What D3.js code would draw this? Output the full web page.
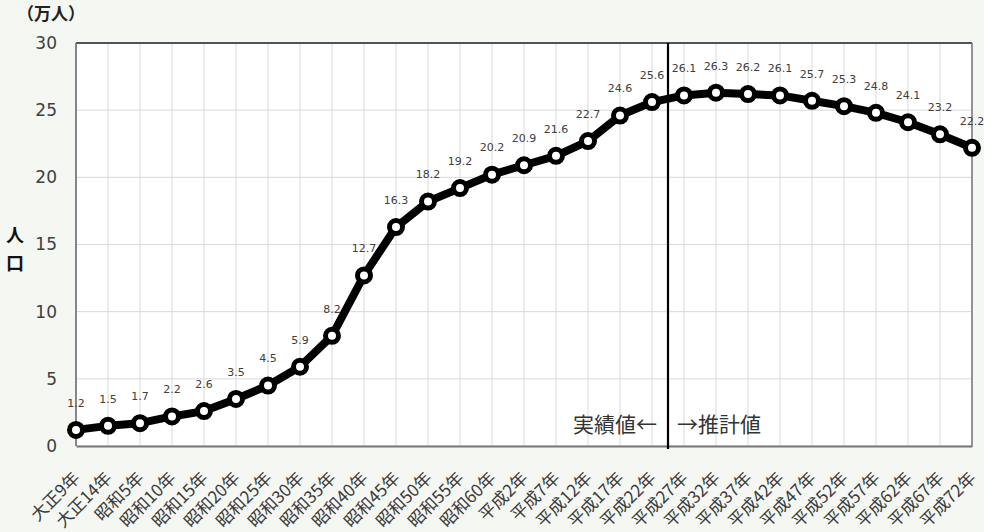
<!DOCTYPE html>
<html><head><meta charset="utf-8">
<script src="https://cdn.jsdelivr.net/npm/d3@7"></script>
<style>
html,body{margin:0;padding:0;background:#f5f7f2;}
svg{display:block;}
</style></head>
<body>
<svg id="chart" width="984" height="532"></svg>
<script>
const categories = ["大正9年","大正14年","昭和5年","昭和10年","昭和15年","昭和20年","昭和25年","昭和30年","昭和35年","昭和40年","昭和45年","昭和50年","昭和55年","昭和60年","平成2年","平成7年","平成12年","平成17年","平成22年","平成27年","平成32年","平成37年","平成42年","平成47年","平成52年","平成57年","平成62年","平成67年","平成72年"];
const population = [1.2,1.5,1.7,2.2,2.6,3.5,4.5,5.9,8.2,12.7,16.3,18.2,19.2,20.2,20.9,21.6,22.7,24.6,25.6,26.1,26.3,26.2,26.1,25.7,25.3,24.8,24.1,23.2,22.2];
const yTicks = [0,5,10,15,20,25,30];
const unitLabel = "（万人）";
const yTitle = ["人","口"];
const dividerBetween = ["平成22年","平成27年"];
const leftNote = "実績値←";
const rightNote = "→推計値";

const CJK = "'Noto Sans CJK JP','Noto Sans',sans-serif";
const svg = d3.select("#chart");
const L = 76, R = 972, T = 43, B = 446;
const x = d3.scalePoint().domain(categories).range([L, R]);
const y = d3.scaleLinear().domain([0,30]).range([B, T]);

svg.append("rect").attr("x",L).attr("y",T).attr("width",R-L).attr("height",B-T).attr("fill","#ffffff");

svg.append("g").selectAll("line").data(categories).join("line")
  .attr("x1",d=>x(d)).attr("x2",d=>x(d)).attr("y1",T).attr("y2",B)
  .attr("stroke","#d9d9d9").attr("stroke-width",1);
svg.append("g").selectAll("line").data(yTicks).join("line")
  .attr("x1",L).attr("x2",R).attr("y1",d=>y(d)).attr("y2",d=>y(d))
  .attr("stroke","#d9d9d9").attr("stroke-width",1);

svg.append("line").attr("x1",L).attr("x2",R).attr("y1",T).attr("y2",T).attr("stroke","#222").attr("stroke-width",1.5);
svg.append("line").attr("x1",R).attr("x2",R).attr("y1",T).attr("y2",B).attr("stroke","#777").attr("stroke-width",1.5);
svg.append("line").attr("x1",L).attr("x2",L).attr("y1",T).attr("y2",B).attr("stroke","#666").attr("stroke-width",1.5);

const yAxis = d3.axisLeft(y).tickValues(yTicks).tickSize(0).tickPadding(19);
const gy = svg.append("g").attr("transform",`translate(${L},0)`).call(yAxis);
gy.select(".domain").remove();
gy.selectAll("text").attr("fill","#404040").style("font-family","'DejaVu Sans',sans-serif").style("font-size","17px");

const xAxis = d3.axisBottom(x).tickSize(0).tickPadding(0);
const gx = svg.append("g").attr("transform",`translate(0,${B})`).call(xAxis);
gx.select(".domain").attr("stroke","#777").attr("stroke-width",2);
gx.selectAll("text").style("font-size","17px").style("font-family",CJK).attr("fill","#3a3a3a")
  .attr("text-anchor","end").attr("dy","0.35em").attr("y",0)
  .attr("transform","translate(0,29) rotate(-45)");

const divX = (x(dividerBetween[0]) + x(dividerBetween[1]))/2;
svg.append("line").attr("x1",divX).attr("x2",divX).attr("y1",T).attr("y2",B+3)
  .attr("stroke","#000").attr("stroke-width",2.2);
svg.append("text").attr("x",divX-11).attr("y",425).attr("dy","0.35em").attr("text-anchor","end")
  .style("font-family",CJK).style("font-size","21px").attr("fill","#333").text(leftNote);
svg.append("text").attr("x",divX+9).attr("y",425).attr("dy","0.35em").attr("text-anchor","start")
  .style("font-family",CJK).style("font-size","21px").attr("fill","#333").text(rightNote);

const line = d3.line().x((d,i)=>x(categories[i])).y(d=>y(d));
svg.append("path").datum(population).attr("d",line).attr("fill","none")
  .attr("stroke","#000").attr("stroke-width",8).attr("stroke-linejoin","round");
svg.append("g").selectAll("circle").data(population).join("circle")
  .attr("cx",(d,i)=>x(categories[i])).attr("cy",d=>y(d)).attr("r",6.5)
  .attr("fill","#fff").attr("stroke","#000").attr("stroke-width",5);

svg.append("g").selectAll("text").data(population).join("text")
  .attr("x",(d,i)=>x(categories[i])).attr("y",d=>y(d)-27).attr("dy","0.35em")
  .attr("text-anchor","middle").attr("fill","#404040")
  .style("font-family","'DejaVu Sans',sans-serif").style("font-size","11px")
  .text(d=>d.toFixed(1));

svg.append("text").attr("x",17).attr("y",14).attr("dy","0.35em")
  .style("font-family",CJK).style("font-size","17px")
  .attr("font-weight","bold").attr("fill","#222").text(unitLabel);
svg.append("g").selectAll("text").data(yTitle).join("text")
  .attr("x",15).attr("y",(d,i)=>236+i*28).attr("dy","0.35em").attr("text-anchor","middle")
  .style("font-family",CJK).style("font-size","18px")
  .attr("font-weight","bold").attr("fill","#111").text(d=>d);
</script>
</body></html>
